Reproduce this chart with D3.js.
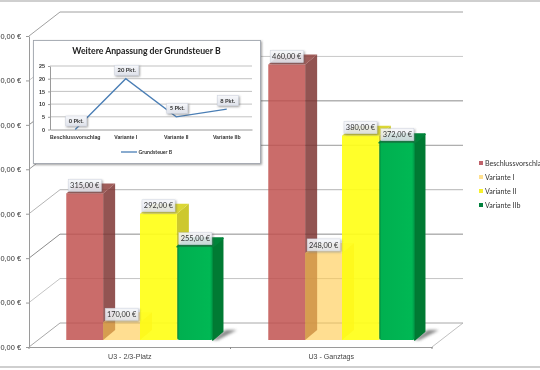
<!DOCTYPE html>
<html>
<head>
<meta charset="utf-8">
<script src="https://cdn.jsdelivr.net/npm/d3@7"></script>
<style>
  html, body { margin: 0; padding: 0; background: #fff; overflow: hidden; }
  svg { display: block; font-family: Lato, "Open Sans", sans-serif; filter: blur(0.35px); }
  .domain { stroke: #9a9a9a; }
  .tick line { stroke: #9a9a9a; }
</style>
</head>
<body>
<svg id="chart" width="540" height="370"></svg>
<script>
const categories = ["U3 - 2/3-Platz", "U3 - Ganztags"];
const seriesNames = ["Beschlussvorschlag", "Variante I", "Variante II", "Variante IIb"];
const valuesPlatz = [315, 170, 292, 255];
const valuesGanztags = [460, 248, 380, 372];
const yTicks = [150, 200, 250, 300, 350, 400, 450, 500];

const insetTitle = "Weitere Anpassung der Grundsteuer B";
const insetSeries = "Grundsteuer B";
const insetCategories = ["Beschlussvorschlag", "Variante I", "Variante II", "Variante IIb"];
const insetValues = [0, 20, 5, 8];
const insetTicks = [0, 5, 10, 15, 20, 25];

const svg = d3.select("#chart");

const colors = {
  "Beschlussvorschlag": { front: "#c0504d", side: "#7d3331", top: "#8f3f3c", opacity: 0.84, sideOpacity: 0.84, swatch: "#c0626a" },
  "Variante I":         { front: "#ffc94d", side: "#e8940c", top: "#ffd66e", opacity: 0.62, sideOpacity: 0.72, swatch: "#ffe08f" },
  "Variante II":        { front: "#ffff1a", side: "#c9c41e", top: "#d8d426", opacity: 0.93, sideOpacity: 0.93, swatch: "#f6f02c" },
  "Variante IIb":       { front: "#00b050", side: "#007a33", top: "#00843a", opacity: 1, sideOpacity: 1, swatch: "#00803c" }
};

// the wall lines come out uneven in the reference
const gridStroke = { 150: "#a8a8a8", 200: "#c4c4c4", 250: "#8c8c8c", 300: "#b4b4b4", 350: "#9a9a9a", 400: "#8c8c8c", 450: "#c8c8c8", 500: "#a0a0a0" };

const de = d3.formatLocale({ decimal: ",", thousands: ".", grouping: [3], currency: ["", " €"] });
const euro = d => de.format(",.2f")(d) + " €";

// 3d box: floor runs back by wallDx/wallDy, each bar sits a bit in front of the wall
const wallDx = 31, wallDy = -24;
const barShiftY = -7;
const depthDx = 12, depthDy = -10;

const y = d3.scaleLinear().domain([150, 500]).range([347, 36]);
const x0 = d3.scaleBand().domain(categories).range([29, 432]);
const xBar = d3.scaleBand().domain(categories).range([39, 443])
  .paddingInner(0.27).paddingOuter(0.135);
const x1 = d3.scaleBand().domain(seriesNames).range([0, xBar.bandwidth()]);

const defs = svg.append("defs");
defs.append("filter").attr("id", "blur").attr("x", "-30%").attr("y", "-30%").attr("width", "160%").attr("height", "160%")
  .append("feGaussianBlur").attr("stdDeviation", 1.4);
const shadowF = defs.append("filter").attr("id", "boxshadow").attr("x", "-20%").attr("y", "-20%").attr("width", "150%").attr("height", "150%");
shadowF.append("feDropShadow").attr("dx", 1).attr("dy", 1).attr("stdDeviation", 0.8)
  .attr("flood-color", "#555").attr("flood-opacity", 0.6);
const labelGrad = defs.append("linearGradient").attr("id", "labelGrad").attr("x1", 0).attr("y1", 0).attr("x2", 0).attr("y2", 1);
labelGrad.append("stop").attr("offset", 0).attr("stop-color", "#f6f7fa");
labelGrad.append("stop").attr("offset", 1).attr("stop-color", "#dfe2ea");
const greenGrad = defs.append("linearGradient").attr("id", "greenGrad").attr("x1", 0).attr("y1", 0).attr("x2", 1).attr("y2", 0);
greenGrad.append("stop").attr("offset", 0).attr("stop-color", "#008a3e");
greenGrad.append("stop").attr("offset", 0.06).attr("stop-color", "#00b050");
greenGrad.append("stop").attr("offset", 0.92).attr("stop-color", "#00b854");
greenGrad.append("stop").attr("offset", 1).attr("stop-color", "#009445");

// frame lines of the pasted image
svg.append("line").attr("x1", 0).attr("x2", 540).attr("y1", 1).attr("y2", 1).attr("stroke", "#a0a0a0").attr("stroke-width", 1.2);
svg.append("line").attr("x1", 0).attr("x2", 540).attr("y1", 367).attr("y2", 367).attr("stroke", "#a0a0a0").attr("stroke-width", 1.2);

// walls and grid
const grid = svg.append("g");
grid.selectAll("path.grid")
  .data(yTicks)
  .enter().append("path")
    .attr("class", "grid")
    .attr("fill", "none")
    .attr("stroke", d => gridStroke[d])
    .attr("stroke-width", 1)
    .attr("d", d => `M29,${y(d)}L${29 + wallDx},${y(d) + wallDy}L${432 + wallDx},${y(d) + wallDy}`);
grid.append("path")
  .attr("fill", "none").attr("stroke", "#b0b0b0").attr("stroke-width", 0.8)
  .attr("d", `M432,${y(150)}L${432 + wallDx},${y(150) + wallDy}`);

// axes
svg.append("g")
  .attr("transform", "translate(29,0)")
  .call(d3.axisLeft(y).tickValues(yTicks).tickFormat(euro).tickSize(3).tickSizeOuter(0))
  .call(g => g.selectAll("text").attr("font-size", 7.4).attr("fill", "#333").attr("x", -8));

const xAxis = svg.append("g")
  .attr("transform", `translate(0,${y(150)})`)
  .call(d3.axisBottom(x0).tickSize(0).tickPadding(7));
xAxis.selectAll("text").attr("font-size", 7.1).attr("fill", "#444");
xAxis.selectAll("line.edge")
  .data(d3.range(categories.length + 1))
  .enter().append("line")
    .attr("class", "edge")
    .attr("stroke", "#8c8c8c")
    .attr("x1", i => x0.range()[0] + i * x0.step())
    .attr("x2", i => x0.range()[0] + i * x0.step())
    .attr("y1", 0).attr("y2", 2);

// bars
const rows = [
  { cat: categories[0], values: valuesPlatz },
  { cat: categories[1], values: valuesGanztags }
];
const barBase = y(150) + barShiftY;

rows.forEach(row => {
  const ox = xBar(row.cat);
  // floor shadow behind the green bar
  const gx = ox + x1(seriesNames[3]) + x1.bandwidth();
  svg.append("path")
    .attr("d", `M${gx - 2},${barBase}L${gx + depthDx},${barBase + depthDy}L${gx + depthDx + 11},${barBase + depthDy}L${gx + 4},${barBase}Z`)
    .attr("fill", "#555")
    .attr("opacity", 0.7)
    .attr("filter", "url(#blur)");

  seriesNames.forEach((name, i) => {
    const v = row.values[i];
    const c = colors[name];
    const green = name === "Variante IIb";
    const bx = ox + x1(name) + (green ? 0.5 : 0);
    const bw = x1.bandwidth() - (green ? 1.5 : 0);
    const top = y(v) + barShiftY;
    // the rounded green bars carry a stroke, so their depth is drawn shorter
    const dx = green ? 10 : depthDx;
    const dy = green ? -8.5 : depthDy;
    const g = svg.append("g");
    g.append("path")
      .attr("fill", c.side)
      .attr("opacity", c.sideOpacity)
      .attr("stroke", green ? c.side : "none")
      .attr("stroke-linejoin", "round")
      .attr("stroke-width", green ? 1.5 : 0)
      .attr("d", `M${bx + bw},${top}L${bx + bw + dx},${top + dy}L${bx + bw + dx},${barBase + dy}L${bx + bw},${barBase}Z`);
    g.append("path")
      .attr("fill", c.top)
      .attr("opacity", c.opacity)
      .attr("stroke", green ? c.top : "none")
      .attr("stroke-linejoin", "round")
      .attr("stroke-width", green ? 2 : 0)
      .attr("d", `M${bx},${top}L${bx + dx},${top + dy}L${bx + bw + dx},${top + dy}L${bx + bw},${top}Z`);
    g.append("rect")
      .attr("x", bx).attr("y", top).attr("width", bw).attr("height", barBase - top)
      .attr("rx", green ? 2 : 0)
      .attr("opacity", c.opacity)
      .attr("fill", green ? "url(#greenGrad)" : c.front);
  });
});

// value labels go last so they sit above every bar
rows.forEach(row => {
  seriesNames.forEach((name, i) => {
    const v = row.values[i];
    const bx = xBar(row.cat) + x1(name);
    const top = y(v) + barShiftY;
    const g = svg.append("g").attr("transform", `translate(${bx + 2},${top - 14})`);
    g.append("rect").attr("width", 33).attr("height", 12)
      .attr("fill", "url(#labelGrad)").attr("stroke", "#cdd3e0").attr("stroke-width", 0.5)
      .attr("filter", "url(#boxshadow)").attr("opacity", 0.9);
    g.append("text").attr("x", 16.5).attr("y", 8.6).attr("text-anchor", "middle")
      .attr("font-size", 7.4).attr("fill", "#333").text(euro(v));
  });
});

// legend
const legend = svg.append("g").attr("transform", "translate(479,163)");
const legendRows = legend.selectAll("g")
  .data(seriesNames)
  .enter().append("g")
    .attr("transform", (d, i) => `translate(0,${i * 14})`);
legendRows.append("rect").attr("x", 0).attr("y", -2).attr("width", 4).attr("height", 4)
  .attr("fill", d => colors[d].swatch);
legendRows.append("text").attr("x", 6).attr("y", 2.6)
  .attr("font-size", 7.1).attr("fill", "#333").text(d => d);

// inset line chart
const inset = svg.append("g");
inset.append("rect").attr("x", 33.5).attr("y", 40.5).attr("width", 227).attr("height", 123)
  .attr("fill", "#fff").attr("stroke", "#9aa0a8").attr("stroke-width", 0.8)
  .attr("filter", "url(#boxshadow)");
inset.append("text").attr("x", 146.5).attr("y", 54).attr("text-anchor", "middle")
  .attr("font-size", 8.7).attr("font-weight", 700).attr("fill", "#222").text(insetTitle);

const ix = d3.scaleBand().domain(insetCategories).range([50, 252]);
const iy = d3.scaleLinear().domain([0, 25]).range([129.5, 66]);

inset.append("g")
  .selectAll("line")
  .data(insetTicks.slice(1))
  .enter().append("line")
    .attr("x1", 50).attr("x2", 252)
    .attr("y1", d => iy(d)).attr("y2", d => iy(d))
    .attr("stroke", "#a8a8a8").attr("stroke-width", 0.7);

const ixAxis = inset.append("g").attr("transform", `translate(0,${iy(0)})`)
  .call(d3.axisBottom(ix).tickSize(0).tickPadding(6));
ixAxis.selectAll("text").attr("font-size", 5.2).attr("font-weight", 700).attr("fill", "#333");
const iyAxis = inset.append("g").attr("transform", "translate(50,0)")
  .call(d3.axisLeft(iy).tickValues(insetTicks).tickSize(2).tickPadding(3).tickSizeOuter(0));
iyAxis.selectAll("text").attr("font-size", 5.4).attr("font-weight", 700).attr("fill", "#333");
iyAxis.select(".domain").attr("stroke", "#c8c8c8");

const pts = insetCategories.map((c, i) => ({ c, v: insetValues[i] }));
const ipx = d => ix(d.c) + ix.bandwidth() / 2;
inset.append("path")
  .attr("fill", "none").attr("stroke", "#4a7eb5").attr("stroke-width", 1.3)
  .attr("d", d3.line().x(ipx).y(d => iy(d.v))(pts));

const ilabels = inset.selectAll("g.ilabel")
  .data(pts)
  .enter().append("g")
    .attr("class", "ilabel")
    .attr("transform", d => `translate(${ipx(d) + 1},${iy(d.v) - 8.5})`);
ilabels.append("rect")
  .attr("x", d => d.v >= 10 ? -12 : -10.5).attr("y", -5)
  .attr("width", d => d.v >= 10 ? 24 : 21).attr("height", 10)
  .attr("fill", "url(#labelGrad)").attr("stroke", "#cdd3e0").attr("stroke-width", 0.5)
  .attr("filter", "url(#boxshadow)");
ilabels.append("text").attr("text-anchor", "middle").attr("y", 2)
  .attr("font-size", 5.8).attr("font-weight", 700).attr("fill", "#333")
  .text(d => `${d.v} Pkt.`);

inset.append("line").attr("x1", 121).attr("x2", 137).attr("y1", 152).attr("y2", 152)
  .attr("stroke", "#4a7eb5").attr("stroke-width", 1.3);
inset.append("text").attr("x", 138.5).attr("y", 154).attr("font-size", 5.2).attr("font-weight", 700)
  .attr("fill", "#333").text(insetSeries);
</script>
</body>
</html>
